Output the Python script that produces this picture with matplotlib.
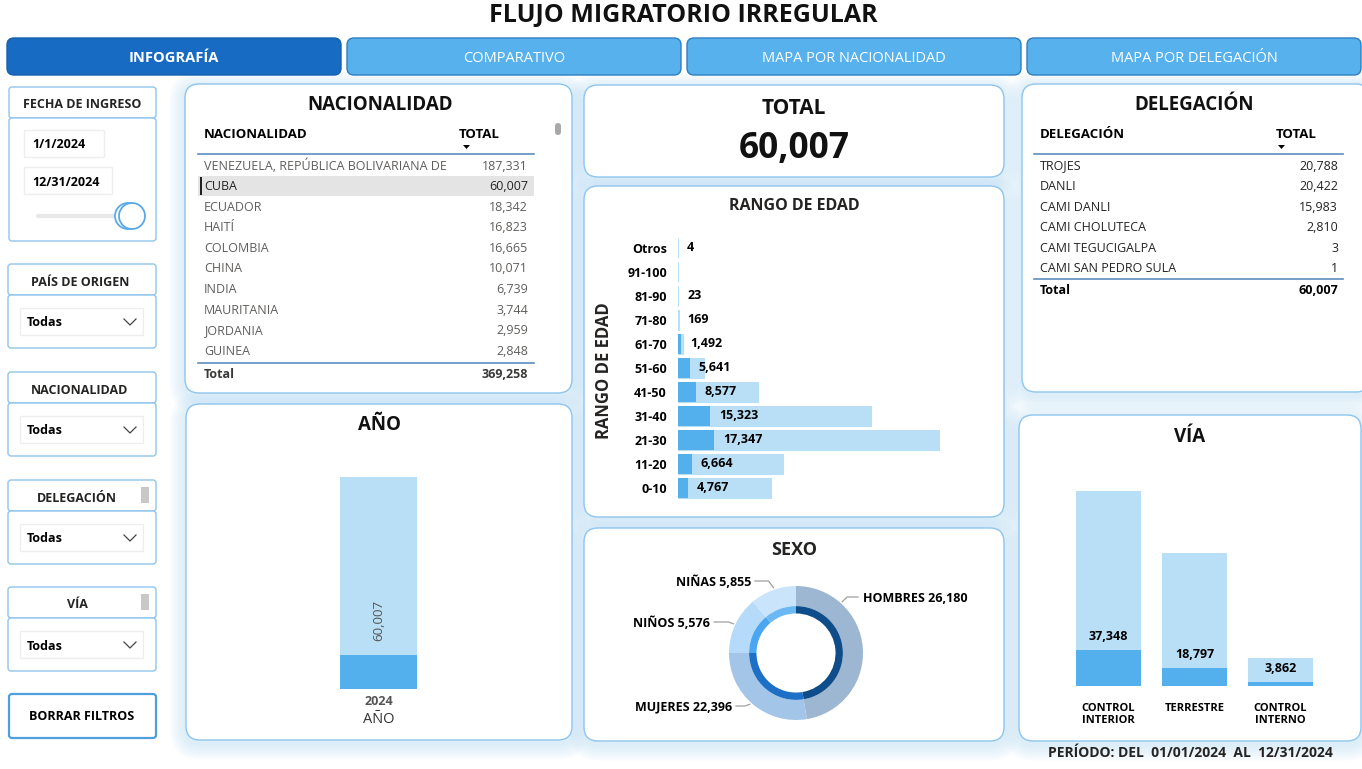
import matplotlib
matplotlib.use("Agg")
import numpy as np
import matplotlib.pyplot as plt
from matplotlib.patches import FancyBboxPatch, Rectangle, Polygon, Circle

plt.rcParams["font.family"] = ["Open Sans", "DejaVu Sans"]

# data
nat_names = ["VENEZUELA, REPÚBLICA BOLIVARIANA DE", "CUBA", "ECUADOR", "HAITÍ", "COLOMBIA",
             "CHINA", "INDIA", "MAURITANIA", "JORDANIA", "GUINEA"]
nat_totals = [187331, 60007, 18342, 16823, 16665, 10071, 6739, 3744, 2959, 2848]
nat_sum = 369258

del_names = ["TROJES", "DANLI", "CAMI DANLI", "CAMI CHOLUTECA", "CAMI TEGUCIGALPA", "CAMI SAN PEDRO SULA"]
del_totals = [20788, 20422, 15983, 2810, 3, 1]
del_sum = 60007

age_labels = ["0-10", "11-20", "21-30", "31-40", "41-50", "51-60", "61-70", "71-80", "81-90", "91-100", "Otros"]
age_sel = [4767, 6664, 17347, 15323, 8577, 5641, 1492, 169, 23, 0, 4]
age_all = [44700, 50700, 126300, 93100, 38600, 12600, 2430, 700, 100, 10, 18]

year_labels = ["2024"]
year_all = [369258]
year_sel = [60007]

via_labels = ["CONTROL\nINTERIOR", "TERRESTRE", "CONTROL\nINTERNO"]
via_all = [202300, 138200, 28758]
via_sel = [37348, 18797, 3862]

sex_labels = ["HOMBRES", "MUJERES", "NIÑOS", "NIÑAS"]
sex_all = [175050, 101900, 51300, 41008]
sex_sel = [26180, 22396, 5576, 5855]

total_sel = 60007

LIGHT = "#b9dff6"
DARK = "#53b0ec"
BORDER = "#8ec5ec"
GRAY_TXT = "#605e5c"
LINE = "#5d8fc0"

W, H = 1362, 769
fig = plt.figure(figsize=(W / 100, H / 100), dpi=100)
bg = fig.add_axes([0, 0, 1, 1])
bg.set_xlim(0, W)
bg.set_ylim(H, 0)
bg.axis("off")


def px_axes(x0, y0, x1, y1):
    ax = fig.add_axes([x0 / W, 1 - y1 / H, (x1 - x0) / W, (y1 - y0) / H])
    ax.patch.set_alpha(0)
    return ax


def rbox(x0, y0, x1, y1, r=4, fc="white", ec=BORDER, lw=1.0, z=1):
    bg.add_patch(FancyBboxPatch((x0, y0), x1 - x0, y1 - y0,
                                boxstyle=f"round,pad=0,rounding_size={r}",
                                fc=fc, ec=ec, lw=lw, zorder=z))


def panel(x0, y0, x1, y1, r=14):
    # soft blue glow around the card
    for k in range(7, 0, -1):
        g = 2.2 * k
        bg.add_patch(FancyBboxPatch((x0 - g, y0 - g + 4), x1 - x0 + 2 * g, y1 - y0 + 2 * g,
                                    boxstyle=f"round,pad=0,rounding_size={r + g}",
                                    fc="#a8d6f7", ec="none", alpha=0.06, zorder=0))
    rbox(x0, y0, x1, y1, r=r, ec=BORDER, lw=1.0, z=1)


def txt(x, y, s, size=9, weight="normal", color="black", ha="center", **kw):
    bg.text(x, y + 1, s, fontsize=size, fontweight=weight, color=color, ha=ha, va="center", zorder=5, **kw)


# title
txt(683, 14.5, "FLUJO MIGRATORIO IRREGULAR", size=18, weight="bold", color="#111111")

# tabs
tabs = ["INFOGRAFÍA", "COMPARATIVO", "MAPA POR NACIONALIDAD", "MAPA POR DELEGACIÓN"]
for i, t in enumerate(tabs):
    x0 = 7 + i * 340
    active = i == 0
    rbox(x0, 38, x0 + 334, 75, r=7, fc="#176bc3" if active else "#56b1ed",
         ec="#1560ad" if active else "#2f7fc0", lw=1.0, z=2)
    txt(x0 + 167, 57, t, size=10.5, weight="bold" if active else "normal", color="white")

# left slicers
rbox(9, 87, 156, 118, r=3)
rbox(9, 118, 156, 241, r=3)
txt(82, 104, "FECHA DE INGRESO", size=9, weight="bold", color="#252423")
for (x0, y0, x1, s) in [(24, 130, 104, "1/1/2024"), (24, 167, 112, "12/31/2024")]:
    bg.add_patch(Rectangle((x0, y0), x1 - x0, 27, fc="white", ec="#eeeeee", lw=1, zorder=2))
    txt(x0 + 8, y0 + 14, s, size=9, weight="bold", ha="left")
bg.plot([38, 130], [216, 216], color="#e8e8e8", lw=3, zorder=2, solid_capstyle="round")
for cx in (128, 132):
    bg.add_patch(Circle((cx, 216), 13, fc="white", ec="#5aa9e6", lw=1.3, zorder=3))

slicers = [("PAÍS DE ORIGEN", 264, False), ("NACIONALIDAD", 372, False),
           ("DELEGACIÓN", 480, True), ("VÍA", 587, True)]
for name, y0, scroll in slicers:
    rbox(8, y0, 156, y0 + 31, r=3)
    rbox(8, y0 + 31, 156, y0 + 84, r=3)
    txt(80 if not scroll else 77, y0 + 17, name, size=9, weight="bold", color="#252423")
    if scroll:
        bg.add_patch(Rectangle((141, y0 + 7), 8, 16, fc="#c8c8c8", ec="none", zorder=3))
    bg.add_patch(Rectangle((20, y0 + 44), 123, 27, fc="white", ec="#eeeeee", lw=1, zorder=2))
    txt(27, y0 + 58, "Todas", size=9, weight="bold", ha="left")
    bg.plot([124, 130, 136], [y0 + 55, y0 + 61, y0 + 55], color="#444444", lw=0.9, zorder=3)

rbox(9, 694, 156, 738, r=3, ec="#4f9fdc", lw=1.6)
txt(82, 716, "BORRAR FILTROS", size=9, weight="bold")

# panels
panel(185, 84, 572, 393)
panel(186, 404, 572, 740)
panel(584, 85, 1004, 177)
panel(584, 186, 1004, 517)
panel(584, 528, 1004, 741)
panel(1022, 84, 1370, 392)
panel(1019, 415, 1361, 741)

# NACIONALIDAD table
txt(380, 104, "NACIONALIDAD", size=13.5, weight="bold", color="#111111")
txt(204, 134, "NACIONALIDAD", size=9.5, weight="bold", ha="left")
txt(459, 134, "TOTAL", size=9.5, weight="bold", ha="left")
bg.add_patch(Polygon([[463, 145], [470, 145], [466.5, 149]], fc="black", ec="none", zorder=5))
bg.add_patch(FancyBboxPatch((555, 123), 6, 12, boxstyle="round,pad=0,rounding_size=3",
                            fc="#a8a8a8", ec="none", zorder=5))
bg.plot([198, 534], [154, 154], color=LINE, lw=1.2, zorder=4)
row_h = 20.6
for i, (n, v) in enumerate(zip(nat_names, nat_totals)):
    y = 165 + i * row_h
    if n == "CUBA":
        bg.add_patch(Rectangle((198, y - 10), 336, 20, fc="#e4e4e4", ec="none", zorder=3))
        bg.add_patch(Rectangle((199.5, y - 9), 2, 18, fc="#222222", ec="none", zorder=4))
    c = "#252423" if n == "CUBA" else GRAY_TXT
    txt(204, y, n, size=9, color=c, ha="left")
    txt(528, y, f"{v:,}", size=9, color=c, ha="right")
bg.plot([198, 534], [363, 363], color=LINE, lw=1.2, zorder=4)
txt(204, 374, "Total", size=9, weight="bold", color="#3b3a39", ha="left")
txt(528, 374, f"{nat_sum:,}", size=9, weight="bold", color="#3b3a39", ha="right")

# DELEGACIÓN table
txt(1194, 104, "DELEGACIÓN", size=13.5, weight="bold", color="#111111")
txt(1040, 134, "DELEGACIÓN", size=9.5, weight="bold", ha="left")
txt(1276, 134, "TOTAL", size=9.5, weight="bold", ha="left")
bg.add_patch(Polygon([[1278, 145], [1285, 145], [1281.5, 149]], fc="black", ec="none", zorder=5))
bg.plot([1034, 1343], [154, 154], color=LINE, lw=1.2, zorder=4)
for i, (n, v) in enumerate(zip(del_names, del_totals)):
    y = 165 + i * row_h
    txt(1040, y, n, size=9, color="#252423", ha="left")
    txt(1338, y, f"{v:,}", size=9, color="#252423", ha="right")
bg.plot([1034, 1343], [279, 279], color=LINE, lw=1.2, zorder=4)
txt(1040, 289, "Total", size=9, weight="bold", ha="left")
txt(1338, 289, f"{del_sum:,}", size=9, weight="bold", ha="right")

# TOTAL card
txt(794, 108, "TOTAL", size=15, weight="bold", color="#111111")
txt(794, 148, f"{total_sel:,}", size=25.5, weight="bold", color="#111111")

# RANGO DE EDAD
txt(794, 205, "RANGO DE EDAD", size=11.5, weight="bold", color="#252423")
txt(604, 370, "RANGO DE EDAD", size=12, weight="bold", color="#252423", rotation=90)
ax = px_axes(678, 236, 940, 500)
yy = np.arange(len(age_labels))
ax.barh(yy, age_all, height=0.8, color=LIGHT, edgecolor=LIGHT, lw=0.8)
ax.barh(yy, age_sel, height=0.8, color=DARK)
ax.set_xlim(0, max(age_all))
ax.set_ylim(-0.5, len(age_labels) - 0.5)
ax.set_yticks(yy, age_labels, fontsize=9, fontweight="bold")
ax.tick_params(axis="y", length=0, pad=8)
ax.set_xticks([])
for s in ax.spines.values():
    s.set_visible(False)
for i, v in enumerate(age_sel):
    if v > 0:
        ax.annotate(f"{v:,}", (v, i), xytext=(6.5, 0), textcoords="offset points",
                    ha="left", va="center", fontsize=9, fontweight="bold")

# AÑO
txt(380, 424, "AÑO", size=13.5, weight="bold", color="#111111")
ax = px_axes(301, 477, 456, 689)
xx = np.arange(len(year_labels))
ax.bar(xx, year_all, width=1.0, color=LIGHT)
ax.bar(xx, year_sel, width=1.0, color=DARK)
ax.set_xlim(-1, 1)
ax.set_ylim(0, max(year_all))
ax.set_yticks([])
ax.set_xticks(xx, year_labels, fontsize=9, fontweight="bold", color="#555555")
ax.tick_params(axis="x", length=0, pad=4)
ax.set_xlabel("AÑO", fontsize=10.5, color="#333333", labelpad=3)
for s in ax.spines.values():
    s.set_visible(False)
for i, v in enumerate(year_sel):
    ax.annotate(f"{v:,}", (i, v), xytext=(0, 10), textcoords="offset points",
                ha="center", va="bottom", rotation=90, fontsize=9.5, color="#555555")

# VÍA
txt(1190, 436, "VÍA", size=13.5, weight="bold", color="#111111")
ax = px_axes(1065.5, 491, 1323.5, 686)
xv = np.arange(len(via_labels))
ax.bar(xv, via_all, width=0.756, color=LIGHT)
ax.bar(xv, via_sel, width=0.756, color=DARK)
ax.set_xlim(-0.5, len(via_labels) - 0.5)
ax.set_ylim(0, max(via_all))
ax.set_yticks([])
ax.set_xticks(xv, via_labels, fontsize=8, fontweight="bold", va="top", linespacing=1.15)
ax.tick_params(axis="x", length=0, pad=12)
for s in ax.spines.values():
    s.set_visible(False)
for i, v in enumerate(via_sel):
    ax.annotate(f"{v:,}", (i, v), xytext=(0, 5), textcoords="offset points",
                ha="center", va="bottom", fontsize=9, fontweight="bold")
txt(1190, 752, "PERÍODO: DEL  01/01/2024  AL  12/31/2024", size=10, weight="bold", color="#252423")

# SEXO
txt(794, 549, "SEXO", size=13, weight="bold", color="#252423")
cx, cy, R = 796, 653, 67
ax = px_axes(cx - R, cy - R, cx + R, cy + R)
outer_c = ["#9db6d1", "#a3c6e8", "#b6dafa", "#c9e4fb"]
inner_c = ["#0f4c8a", "#1e6fc6", "#4aa6f0", "#6bb8f3"]
ax.pie(sex_all, radius=1.0, startangle=90, counterclock=False, colors=outer_c,
       wedgeprops=dict(width=0.30, edgecolor="none"))
ax.pie(sex_all, radius=0.70, startangle=90, counterclock=False, colors=inner_c,
       wedgeprops=dict(width=0.11, edgecolor="none"))
ax.set_xlim(-1, 1)
ax.set_ylim(-1, 1)
ax.set_aspect("equal")
ax.axis("off")
# labels with leader lines
leader = {"HOMBRES": (48, 858, 597, "left"), "NIÑAS": (109, 755, 581, "right"),
          "NIÑOS": (155, 714, 622, "right"), "MUJERES": (228, 736, 706, "right")}
for lab, v in zip(sex_labels, sex_sel):
    ang, tx, ty, side = leader[lab]
    a = np.deg2rad(ang)
    px, py = cx + (R + 2) * np.cos(a), cy - (R + 2) * np.sin(a)
    ex = px + (5 if side == "left" else -5)
    bg.plot([px, ex, tx], [py, ty, ty], color="#a0a0a0", lw=0.9, zorder=4)
    if side == "left":
        txt(tx + 5, ty, f"{lab} {v:,}", size=9, weight="bold", ha="left")
    else:
        txt(tx - 4, ty, f"{lab} {v:,}", size=9, weight="bold", ha="right")

fig.savefig("out.png", dpi=100)
